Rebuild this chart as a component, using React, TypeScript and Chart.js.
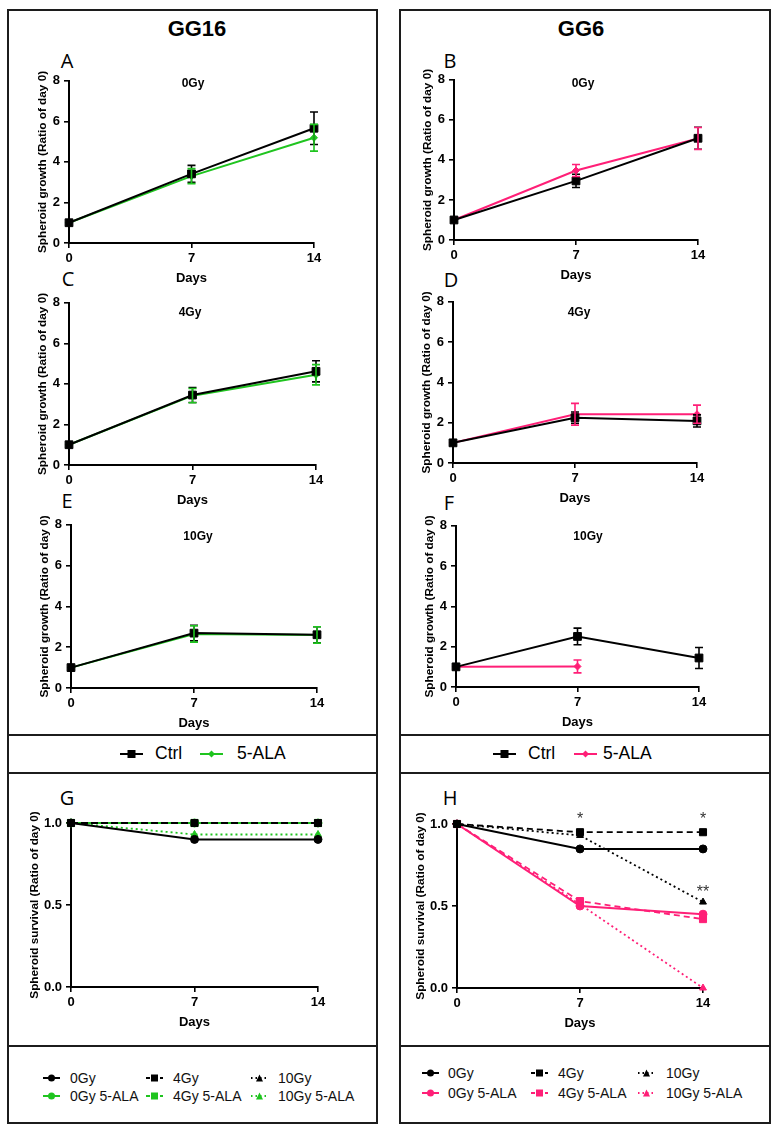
import React, { useEffect, useRef } from 'react';
import { Chart, registerables } from 'chart.js';

Chart.register(...registerables);

// ---------------- DATA ----------------
const DAYS = [0, 7, 14];
const DAY_TICKS = ['0', '7', '14'];

// Spheroid growth (ratio of day 0): mean and error
// GG16
const gg16_0Gy_ctrl = [1, 3.41, 5.66];
const gg16_0Gy_ctrl_err = [0, 0.42, 0.8];
const gg16_0Gy_ala = [1, 3.3, 5.19];
const gg16_0Gy_ala_err = [0, 0.37, 0.66];

const gg16_4Gy_ctrl = [1, 3.45, 4.62];
const gg16_4Gy_ctrl_err = [0, 0.37, 0.52];
const gg16_4Gy_ala = [1, 3.42, 4.45];
const gg16_4Gy_ala_err = [0, 0.35, 0.5];

const gg16_10Gy_ctrl = [1, 2.69, 2.61];
const gg16_10Gy_ctrl_err = [0, 0.38, 0.39];
const gg16_10Gy_ala = [1, 2.65, 2.6];
const gg16_10Gy_ala_err = [0, 0.4, 0.4];

// GG6
const gg6_0Gy_ctrl = [1, 2.95, 5.08];
const gg6_0Gy_ctrl_err = [0, 0.33, 0.55];
const gg6_0Gy_ala = [1, 3.47, 5.07];
const gg6_0Gy_ala_err = [0, 0.3, 0.55];

const gg6_4Gy_ctrl = [1, 2.25, 2.09];
const gg6_4Gy_ctrl_err = [0, 0.28, 0.3];
const gg6_4Gy_ala = [1, 2.42, 2.42];
const gg6_4Gy_ala_err = [0, 0.54, 0.45];

const gg6_10Gy_ctrl = [1, 2.51, 1.44];
const gg6_10Gy_ctrl_err = [0, 0.41, 0.52];
const gg6_10Gy_ala = [1, 1.02, null];
const gg6_10Gy_ala_err = [0, 0.32, 0];

// Spheroid survival (ratio of day 0)
const gg16_surv_0Gy = [1, 0.9, 0.9];
const gg16_surv_4Gy = [1, 1, 1];
const gg16_surv_10Gy = [1, 1, 1];
const gg16_surv_0Gy_ala = [1, 1, 1];
const gg16_surv_4Gy_ala = [1, 1, 1];
const gg16_surv_10Gy_ala = [1, 0.93, 0.93];

const gg6_surv_0Gy = [1, 0.848, 0.848];
const gg6_surv_4Gy = [1, 0.95, 0.95];
const gg6_surv_10Gy = [1, 0.93, 0.524];
const gg6_surv_0Gy_ala = [1, 0.5, 0.45];
const gg6_surv_4Gy_ala = [1, 0.53, 0.42];
const gg6_surv_10Gy_ala = [1, 0.51, 0];

// significance marks (GG6 survival)
const gg6_sig_days = [7, 14, 14];
const gg6_sig_levels = [1.0, 1.0, 0.555];
const gg6_sig_labels = ['*', '*', '**'];

const GROWTH_TICKS = [0, 2, 4, 6, 8];
const SURV_TICKS = ['0.0', '0.5', '1.0'];

// ---------------- STYLE ----------------
const FONT = '"Liberation Sans", Arial, Helvetica, sans-serif';
const BLACK = '#000000';
const GREEN = '#1fc41f';
const PINK = '#ff1f77';
const FRAME = '#1c1c1c';

const series = (vals: (number | null)[]) => DAYS.map((d, i) => ({ x: d, y: vals[i] }));

const errorBarPlugin = {
  id: 'errorBars',
  afterDatasetsDraw(chart: any) {
    const { ctx } = chart;
    const xs = chart.scales.x;
    const ys = chart.scales.y;
    chart.data.datasets.forEach((ds: any, i: number) => {
      const errs = ds.errors;
      if (!errs || !chart.isDatasetVisible(i)) return;
      ctx.save();
      ctx.strokeStyle = ds.borderColor;
      ctx.lineWidth = 1.6;
      ctx.setLineDash([]);
      ds.data.forEach((pt: any, j: number) => {
        const v = pt.y;
        const e = errs[j];
        if (v == null || !e) return;
        const px = xs.getPixelForValue(pt.x);
        const top = ys.getPixelForValue(v + e);
        const bot = ys.getPixelForValue(v - e);
        ctx.beginPath();
        ctx.moveTo(px, top);
        ctx.lineTo(px, bot);
        ctx.moveTo(px - 4, top);
        ctx.lineTo(px + 4, top);
        ctx.moveTo(px - 4, bot);
        ctx.lineTo(px + 4, bot);
        ctx.stroke();
      });
      ctx.restore();
    });
  },
};

const sigPlugin = {
  id: 'sigMarks',
  afterDatasetsDraw(chart: any, _args: any, opts: any) {
    const marks = (opts && opts.marks) || [];
    if (!marks.length) return;
    const { ctx } = chart;
    ctx.save();
    ctx.fillStyle = '#333';
    ctx.font = `16px ${FONT}`;
    ctx.textAlign = 'center';
    ctx.textBaseline = 'alphabetic';
    marks.forEach((m: any) => {
      ctx.fillText(m.label, chart.scales.x.getPixelForValue(m.day), chart.scales.y.getPixelForValue(m.level));
    });
    ctx.restore();
  },
};

type Geom = { x0: number; x14: number; yTop: number; yBot: number };

function ChartPanel(props: { geom: Geom; kind: 'growth' | 'survival'; datasets: any[]; marks?: any[] }) {
  const { geom, kind, datasets, marks } = props;
  const ref = useRef<HTMLCanvasElement>(null);
  const yW = kind === 'growth' ? 36 : 46;
  const pt = kind === 'growth' ? 10 : 20;
  const pr = 20;
  const xH = 45;
  const left = geom.x0 - yW;
  const top = geom.yTop - pt;
  const width = geom.x14 + pr - left;
  const height = geom.yBot + xH - top;

  useEffect(() => {
    if (!ref.current) return;
    const tickFont = { family: FONT, size: 13, weight: 'bold' as const };
    const axisCommon = {
      grid: { display: true, drawOnChartArea: false, drawTicks: true, tickLength: 5, color: BLACK, lineWidth: 1.6 },
      border: { display: true, color: BLACK, width: 2 },
    };
    const chart = new Chart(ref.current, {
      type: 'line',
      data: { datasets },
      options: {
        animation: false,
        responsive: false,
        devicePixelRatio: 1,
        layout: { padding: { top: pt, right: pr, left: 0, bottom: 0 } },
        plugins: {
          legend: { display: false },
          tooltip: { enabled: false },
          sigMarks: { marks: marks || [] },
        } as any,
        elements: { line: { tension: 0 } },
        scales: {
          x: {
            type: 'linear',
            min: 0,
            max: 14,
            ...axisCommon,
            ticks: {
              stepSize: 7,
              font: tickFont,
              color: BLACK,
              padding: 3,
              maxRotation: 0,
              callback: (v: any) => DAY_TICKS[DAYS.indexOf(Number(v))] ?? '',
            },
            title: {
              display: true,
              text: 'Days',
              font: { family: FONT, size: 13, weight: 'bold' },
              color: BLACK,
              padding: { top: 0, bottom: 2 },
            },
            afterFit: (s: any) => {
              s.height = xH;
            },
          },
          y: {
            type: 'linear',
            min: 0,
            max: kind === 'growth' ? GROWTH_TICKS[GROWTH_TICKS.length - 1] : Number(SURV_TICKS[SURV_TICKS.length - 1]),
            ...axisCommon,
            ticks: {
              stepSize: kind === 'growth' ? 2 : 0.5,
              font: tickFont,
              color: BLACK,
              padding: 4,
              callback: (v: any) => (kind === 'growth' ? String(v) : Number(v).toFixed(1)),
            },
            title: {
              display: true,
              text: kind === 'growth' ? 'Spheroid growth (Ratio of day 0)' : 'Spheroid survival (Ratio of day 0)',
              font: { family: FONT, size: 11.8, weight: 'bold' },
              color: BLACK,
              padding: { top: 3, bottom: 0 },
            },
            afterFit: (s: any) => {
              s.width = yW;
            },
          },
        },
      } as any,
      plugins: [errorBarPlugin, sigPlugin],
    });
    return () => chart.destroy();
  }, []);

  return (
    <canvas
      ref={ref}
      width={width}
      height={height}
      style={{ position: 'absolute', left, top, width, height }}
    />
  );
}

function growthDatasets(ctrl: any[], ctrlErr: number[], ala: any[], alaErr: number[], alaColor: string) {
  return [
    {
      label: 'Ctrl',
      data: series(ctrl),
      errors: ctrlErr,
      borderColor: BLACK,
      backgroundColor: BLACK,
      borderWidth: 2,
      pointStyle: 'rect',
      pointRadius: 5.5,
      pointBackgroundColor: BLACK,
      pointBorderColor: BLACK,
      pointBorderWidth: 1,
      clip: false,
    },
    {
      label: '5-ALA',
      data: series(ala),
      errors: alaErr,
      borderColor: alaColor,
      backgroundColor: alaColor,
      borderWidth: 2,
      pointStyle: 'rectRot',
      pointRadius: 3.5,
      pointBackgroundColor: alaColor,
      pointBorderColor: alaColor,
      pointBorderWidth: 1,
      clip: false,
    },
  ];
}

function survDataset(label: string, vals: any[], color: string, style: 'solid' | 'dashed' | 'dotted', marker: string) {
  const dash = style === 'dashed' ? [6, 4] : style === 'dotted' ? [2, 3] : [];
  return {
    label,
    data: series(vals),
    borderColor: color,
    backgroundColor: color,
    borderWidth: style === 'solid' ? 2 : 1.8,
    borderDash: dash,
    pointStyle: marker,
    pointRadius: marker === 'rect' ? 5 : 4,
    pointBackgroundColor: color,
    pointBorderColor: color,
    pointBorderWidth: 1,
    clip: false,
  };
}

function survivalDatasets(v: any[][], alaColor: string) {
  return [
    survDataset('0Gy', v[0], BLACK, 'solid', 'circle'),
    survDataset('4Gy', v[1], BLACK, 'dashed', 'rect'),
    survDataset('10Gy', v[2], BLACK, 'dotted', 'triangle'),
    survDataset('0Gy 5-ALA', v[3], alaColor, 'solid', 'circle'),
    survDataset('4Gy 5-ALA', v[4], alaColor, 'dashed', 'rect'),
    survDataset('10Gy 5-ALA', v[5], alaColor, 'dotted', 'triangle'),
  ];
}

// ---------------- HTML helpers ----------------
function Text(props: { x: number; y: number; text: string; size: number; bold?: boolean; align?: 'center' | 'left'; family?: string; color?: string }) {
  const { x, y, text, size, bold, align = 'center', family = FONT, color = BLACK } = props;
  return (
    <div
      style={{
        position: 'absolute',
        left: x,
        top: y,
        transform: align === 'center' ? 'translate(-50%, -50%)' : 'translate(0, -50%)',
        fontFamily: family,
        fontSize: size,
        fontWeight: bold ? 'bold' : 'normal',
        color,
        whiteSpace: 'nowrap',
        lineHeight: 1,
      }}
    >
      {text}
    </div>
  );
}

function Box(props: { x: number; y: number; w: number; h: number }) {
  return (
    <div
      style={{
        position: 'absolute',
        left: props.x,
        top: props.y,
        width: props.w,
        height: props.h,
        border: `2px solid ${FRAME}`,
        boxSizing: 'border-box',
      }}
    />
  );
}

function HLine(props: { x: number; y: number; w: number }) {
  return <div style={{ position: 'absolute', left: props.x, top: props.y - 1, width: props.w, height: 2, background: FRAME }} />;
}

function Symbol(props: { x: number; y: number; w: number; color: string; style: 'solid' | 'dashed' | 'dotted'; marker: 'circle' | 'rect' | 'triangle' | 'diamond'; size: number }) {
  const { x, y, w, color, style, marker, size } = props;
  const h = 14;
  const cx = w / 2;
  const cy = h / 2;
  const dash = style === 'dashed' ? '4 3' : style === 'dotted' ? '1.5 3' : undefined;
  let m: any = null;
  if (marker === 'circle') m = <circle cx={cx} cy={cy} r={size / 2} fill={color} />;
  else if (marker === 'rect') m = <rect x={cx - size / 2} y={cy - size / 2} width={size} height={size} fill={color} />;
  else if (marker === 'diamond')
    m = <polygon points={`${cx},${cy - size / 2} ${cx + size / 2},${cy} ${cx},${cy + size / 2} ${cx - size / 2},${cy}`} fill={color} />;
  else m = <polygon points={`${cx},${cy - size / 2} ${cx + size / 2},${cy + size / 2} ${cx - size / 2},${cy + size / 2}`} fill={color} />;
  return (
    <svg width={w} height={h} style={{ position: 'absolute', left: x, top: y - h / 2 }}>
      <line x1={0} y1={cy} x2={w} y2={cy} stroke={color} strokeWidth={2} strokeDasharray={dash} />
      {m}
    </svg>
  );
}

function BottomLegend(props: { ala: string; rows: number[]; symX: number[]; textX: number[] }) {
  const { ala, rows, symX, textX } = props;
  const styles: ('solid' | 'dashed' | 'dotted')[] = ['solid', 'dashed', 'dotted'];
  const markers: ('circle' | 'rect' | 'triangle')[] = ['circle', 'rect', 'triangle'];
  const names = ['0Gy', '4Gy', '10Gy'];
  const items: any[] = [];
  for (let r = 0; r < 2; r++) {
    for (let c = 0; c < 3; c++) {
      const color = r === 0 ? BLACK : ala;
      const label = r === 0 ? names[c] : `${names[c]} 5-ALA`;
      items.push(<Symbol key={`s${r}${c}`} x={symX[c]} y={rows[r]} w={17} color={color} style={styles[c]} marker={markers[c]} size={7} />);
      items.push(<Text key={`t${r}${c}`} x={textX[c]} y={rows[r]} text={label} size={14} align="left" color="#111" />);
    }
  }
  return <>{items}</>;
}

// ---------------- APP ----------------
export default function App() {
  const gA: Geom = { x0: 69, x14: 314, yTop: 79, yBot: 243 };
  const gB: Geom = { x0: 454, x14: 698, yTop: 78, yBot: 240 };
  const gC: Geom = { x0: 69, x14: 316, yTop: 301, yBot: 465 };
  const gD: Geom = { x0: 453, x14: 697, yTop: 300, yBot: 463 };
  const gE: Geom = { x0: 71, x14: 317, yTop: 523, yBot: 688 };
  const gF: Geom = { x0: 456, x14: 699, yTop: 524, yBot: 687 };
  const gG: Geom = { x0: 71, x14: 318, yTop: 823, yBot: 987 };
  const gH: Geom = { x0: 457, x14: 703, yTop: 824, yBot: 988 };

  const sigMarks = gg6_sig_days.map((d, i) => ({ day: d, level: gg6_sig_levels[i], label: gg6_sig_labels[i] }));
  const LETTER_FONT = '"Open Sans", Arial, sans-serif';

  return (
    <div style={{ position: 'absolute', left: 0, top: 0, width: 779, height: 1131, background: '#fff', overflow: 'hidden' }}>
      {/* frames */}
      <Box x={7} y={9} w={371} h={1115} />
      <Box x={399} y={9} w={372} h={1115} />
      <HLine x={7} y={735} w={371} />
      <HLine x={7} y={773} w={371} />
      <HLine x={7} y={1046} w={371} />
      <HLine x={399} y={735} w={372} />
      <HLine x={399} y={773} w={372} />
      <HLine x={399} y={1046} w={372} />

      {/* headers */}
      <Text x={197} y={29} text="GG16" size={22} bold />
      <Text x={581} y={29} text="GG6" size={22} bold />

      {/* panel letters */}
      <Text x={67} y={61} text="A" size={20} family={LETTER_FONT} />
      <Text x={450} y={61} text="B" size={20} family={LETTER_FONT} />
      <Text x={68} y={279} text="C" size={20} family={LETTER_FONT} />
      <Text x={451} y={280} text="D" size={20} family={LETTER_FONT} />
      <Text x={67} y={501} text="E" size={20} family={LETTER_FONT} />
      <Text x={449} y={503} text="F" size={20} family={LETTER_FONT} />
      <Text x={67} y={798} text="G" size={20} family={LETTER_FONT} />
      <Text x={450} y={798} text="H" size={20} family={LETTER_FONT} />

      {/* charts */}
      <ChartPanel geom={gA} kind="growth" datasets={growthDatasets(gg16_0Gy_ctrl, gg16_0Gy_ctrl_err, gg16_0Gy_ala, gg16_0Gy_ala_err, GREEN)} />
      <ChartPanel geom={gB} kind="growth" datasets={growthDatasets(gg6_0Gy_ctrl, gg6_0Gy_ctrl_err, gg6_0Gy_ala, gg6_0Gy_ala_err, PINK)} />
      <ChartPanel geom={gC} kind="growth" datasets={growthDatasets(gg16_4Gy_ctrl, gg16_4Gy_ctrl_err, gg16_4Gy_ala, gg16_4Gy_ala_err, GREEN)} />
      <ChartPanel geom={gD} kind="growth" datasets={growthDatasets(gg6_4Gy_ctrl, gg6_4Gy_ctrl_err, gg6_4Gy_ala, gg6_4Gy_ala_err, PINK)} />
      <ChartPanel geom={gE} kind="growth" datasets={growthDatasets(gg16_10Gy_ctrl, gg16_10Gy_ctrl_err, gg16_10Gy_ala, gg16_10Gy_ala_err, GREEN)} />
      <ChartPanel geom={gF} kind="growth" datasets={growthDatasets(gg6_10Gy_ctrl, gg6_10Gy_ctrl_err, gg6_10Gy_ala, gg6_10Gy_ala_err, PINK)} />
      <ChartPanel
        geom={gG}
        kind="survival"
        datasets={survivalDatasets([gg16_surv_0Gy, gg16_surv_4Gy, gg16_surv_10Gy, gg16_surv_0Gy_ala, gg16_surv_4Gy_ala, gg16_surv_10Gy_ala], GREEN)}
      />
      <ChartPanel
        geom={gH}
        kind="survival"
        datasets={survivalDatasets([gg6_surv_0Gy, gg6_surv_4Gy, gg6_surv_10Gy, gg6_surv_0Gy_ala, gg6_surv_4Gy_ala, gg6_surv_10Gy_ala], PINK)}
        marks={sigMarks}
      />

      {/* condition titles */}
      <Text x={193} y={83} text="0Gy" size={12} bold />
      <Text x={583} y={83} text="0Gy" size={12} bold />
      <Text x={190} y={312} text="4Gy" size={12} bold />
      <Text x={579} y={312} text="4Gy" size={12} bold />
      <Text x={198} y={536} text="10Gy" size={12} bold />
      <Text x={588} y={536} text="10Gy" size={12} bold />

      {/* Ctrl / 5-ALA legends */}
      <Symbol x={120} y={754} w={23} color={BLACK} style="solid" marker="rect" size={8} />
      <Text x={155} y={754} text="Ctrl" size={17.5} align="left" />
      <Symbol x={200} y={754} w={23} color={GREEN} style="solid" marker="diamond" size={7} />
      <Text x={237} y={754} text="5-ALA" size={17.5} align="left" />

      <Symbol x={493} y={754} w={23} color={BLACK} style="solid" marker="rect" size={8} />
      <Text x={528} y={754} text="Ctrl" size={17.5} align="left" />
      <Symbol x={574} y={754} w={23} color={PINK} style="solid" marker="diamond" size={7} />
      <Text x={603} y={754} text="5-ALA" size={17.5} align="left" />

      {/* survival legends */}
      <BottomLegend ala={GREEN} rows={[1078, 1096]} symX={[43, 146, 251]} textX={[70, 173, 278]} />
      <BottomLegend ala={PINK} rows={[1073, 1093]} symX={[422, 531, 638]} textX={[448, 558, 666]} />
    </div>
  );
}
